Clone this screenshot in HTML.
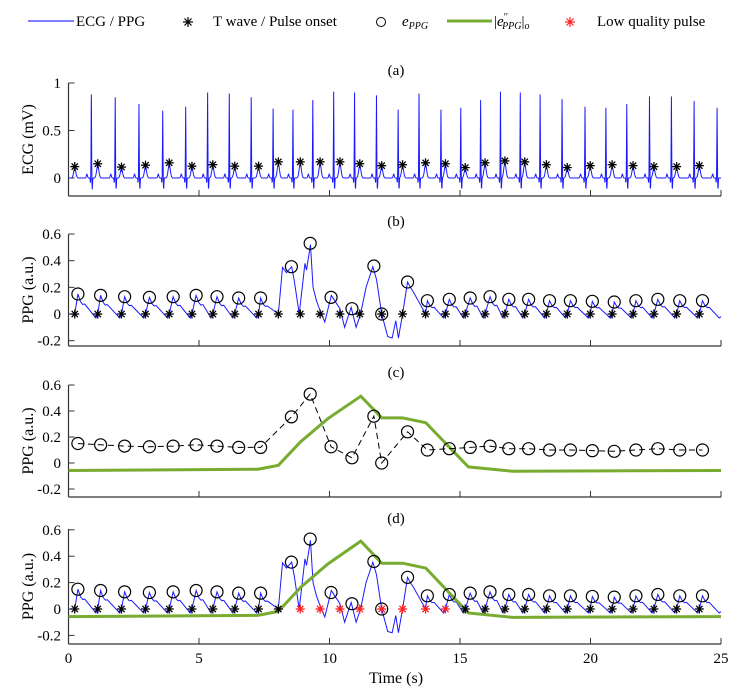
<!DOCTYPE html>
<html><head><meta charset="utf-8"><style>
body{margin:0;background:#fff}
svg{display:block;font-family:"Liberation Serif",serif}
</style></head><body>
<svg id="chart" width="744" height="695" viewBox="0 0 744 695">
<g id="legend" font-size="15">
  <g><line x1="28" y1="21" x2="74" y2="21" stroke="#3030ff" stroke-width="1.3"/><text x="76" y="26">ECG / PPG</text></g>
  <g><g stroke="#000" stroke-width="1.2"><line x1="188" y1="17" x2="188" y2="27"/><line x1="183" y1="22" x2="193" y2="22"/><line x1="184.5" y1="18.5" x2="191.5" y2="25.5"/><line x1="184.5" y1="25.5" x2="191.5" y2="18.5"/></g><text x="213" y="26">T wave / Pulse onset</text></g>
  <g><circle cx="381" cy="22" r="4.5" fill="none" stroke="#000"/><text x="402" y="26" font-style="italic">e<tspan font-size="10" dy="3">PPG</tspan></text></g>
  <g><line x1="447" y1="21" x2="492" y2="21" stroke="#77ac30" stroke-width="3"/><text x="494" y="26">|<tspan font-style="italic">e</tspan><tspan font-size="10" dy="-6">′′</tspan><tspan font-size="10" dy="9" font-style="italic" dx="-6">PPG</tspan><tspan dy="-3">|</tspan><tspan font-size="10" dy="3" font-style="italic">o</tspan></text></g>
  <g><g stroke="#ff2020" stroke-width="1.2"><line x1="570" y1="17" x2="570" y2="27"/><line x1="565" y1="22" x2="575" y2="22"/><line x1="566.5" y1="18.5" x2="573.5" y2="25.5"/><line x1="566.5" y1="25.5" x2="573.5" y2="18.5"/></g><text x="597" y="26">Low quality pulse</text></g>
</g>
</svg>
<script>
// ---------- data ----------
const onsetTimes = [0.24,1.12,2.03,2.95,3.86,4.73,5.53,6.37,7.28,8.04,8.88,9.64,10.40,11.16,12.0,12.80,13.68,14.44,15.20,15.96,16.72,17.48,18.31,19.11,19.99,20.83,21.63,22.43,23.30,24.17];
const ecgTwaveValues = [0.12,0.15,0.115,0.135,0.16,0.125,0.14,0.125,0.125,0.17,0.17,0.17,0.17,0.15,0.13,0.14,0.16,0.15,0.11,0.16,0.18,0.17,0.14,0.11,0.13,0.14,0.13,0.12,0.12,0.13];
const rPeakTimes = [0.875,1.79,2.70,3.61,4.49,5.33,6.16,7.00,7.84,8.60,9.36,10.16,10.96,11.80,12.63,13.43,14.27,15.03,15.79,16.55,17.31,18.07,18.91,19.79,20.59,21.39,22.26,23.10,23.97,24.85];
const rPeakValues = [0.88,0.85,0.78,0.71,0.75,0.90,0.89,0.85,0.73,0.72,0.82,0.91,0.90,0.87,0.72,0.89,0.72,0.74,0.82,0.91,0.90,0.88,0.83,0.75,0.74,0.78,0.86,0.86,0.81,0.74];
const peakTimes = [0.36,1.23,2.15,3.10,4.01,4.89,5.69,6.52,7.36,8.54,9.26,10.06,10.86,11.70,12.0,12.99,13.75,14.59,15.39,16.15,16.87,17.63,18.43,19.23,20.07,20.91,21.74,22.58,23.42,24.29];
const peakValues = [0.15,0.14,0.13,0.125,0.13,0.14,0.13,0.12,0.12,0.355,0.53,0.125,0.04,0.36,0,0.24,0.10,0.11,0.12,0.13,0.11,0.11,0.10,0.10,0.095,0.09,0.10,0.11,0.10,0.10];
const lowQualityFlags = [0,0,0,0,0,0,0,0,0,0,1,1,1,1,1,1,1,1,0,0,0,0,0,0,0,0,0,0,0,0];
const noisyTimes = [8.04,8.2,8.35,8.55,8.65,8.84,9.06,9.12,9.27,9.37,9.5,9.63,9.82,10.07,10.2,10.4,10.58,10.83,11.02,11.19,11.4,11.66,11.8,12.0,12.23,12.4,12.54,12.64,12.8,12.99,13.1,13.2,13.68];
const noisyValues = [0,0.35,0.31,0.355,0.25,0,0.38,0.33,0.52,0.2,0.1,0.03,-0.06,0.14,0.1,0.04,-0.1,0.05,-0.1,0,0.2,0.355,0.26,0,-0.17,-0.18,-0.05,-0.18,0,0.24,0.2,0.17,0];
const greenTimes = [0,7.26,8.04,8.9,9.93,11.2,12.0,12.8,13.69,15.32,17.0,25];
const greenValues = [-0.058,-0.048,-0.018,0.165,0.34,0.514,0.347,0.347,0.31,-0.03,-0.063,-0.058];
const xTicks = [0,5,10,15,20,25];
const yTicksA = [0,0.5,1];
const yTicksPPG = [-0.2,0,0.2,0.4,0.6];

// ---------- helpers ----------
const NS = "http://www.w3.org/2000/svg";
const svg = document.getElementById('chart');
const X = t => 68.5 + 26.1 * t;
function mk(tag, attrs, parent) {
  const e = document.createElementNS(NS, tag);
  for (const k in attrs) e.setAttribute(k, attrs[k]);
  (parent || svg).appendChild(e);
  return e;
}
const panels = [
  {key:'a', y0:178, s:95, top:83, bottom:196, title:70, label:'ECG (mV)', ticks:yTicksA},
  {key:'b', y0:314, s:133.3, top:234, bottom:346, title:221, label:'PPG (a.u.)', ticks:yTicksPPG},
  {key:'c', y0:463, s:130, top:385, bottom:497, title:372, label:'PPG (a.u.)', ticks:yTicksPPG},
  {key:'d', y0:609, s:132, top:529, bottom:644, title:518, label:'PPG (a.u.)', ticks:yTicksPPG}
];
function drawAxes(p, showXLabels) {
  const g = mk('g', {});
  
  
  const ttl = mk('text', {x:396, y:p.title+5, 'text-anchor':'middle', 'font-size':15}, g);
  ttl.textContent = '(' + p.key + ')';
  
  
  mk('line', {x1:X(0), y1:p.top, x2:X(0), y2:p.bottom, stroke:'#333', 'stroke-width':1.2}, g);
  mk('line', {x1:X(0), y1:p.bottom, x2:X(25), y2:p.bottom, stroke:'#333', 'stroke-width':1.2}, g);
  p.ticks.forEach(v => {
    const y = p.y0 - p.s * v;
    mk('line', {x1:X(0), y1:y, x2:X(0)+6, y2:y, stroke:'#333'}, g);
    const t = mk('text', {x:61, y:y+5, 'text-anchor':'end', 'font-size':15}, g);
    t.textContent = String(v);
    
    
  });
  xTicks.forEach(v => {
    mk('line', {x1:X(v), y1:p.bottom, x2:X(v), y2:p.bottom-6, stroke:'#333'}, g);
    if (showXLabels) {
      const t = mk('text', {x:X(v), y:p.bottom+19, 'text-anchor':'middle', 'font-size':15}, g);
      t.textContent = String(v);
      
      
    }
  });
  const cy = (p.top + p.bottom) / 2;
  const yl = mk('text', {x:0, y:0, transform:'translate(33,'+cy+') rotate(-90)', 'text-anchor':'middle', 'font-size':16}, g);
  yl.textContent = p.label;
  
  
}
function star(x, y, color) {
  const g = mk('g', {stroke:color, 'stroke-width':1.3});
  
  
  const r = 4.5;
  mk('line', {x1:x, y1:y-r, x2:x, y2:y+r}, g);
  mk('line', {x1:x-r, y1:y, x2:x+r, y2:y}, g);
  mk('line', {x1:x-r*0.7, y1:y-r*0.7, x2:x+r*0.7, y2:y+r*0.7}, g);
  mk('line', {x1:x-r*0.7, y1:y+r*0.7, x2:x+r*0.7, y2:y-r*0.7}, g);
}
function circ(x, y) {
  const c = mk('circle', {cx:x, cy:y, r:6, fill:'none', stroke:'#000', 'stroke-width':1.2});
  
  
}
function gauss(t, c, w) { const z = (t - c) / w; return Math.exp(-(z * z)); }

// ---------- ECG signal ----------
function ecgSignal() {
  const ts = [];
  for (let i = 0; i <= 2500; i++) ts.push(i / 100);
  rPeakTimes.forEach(r => ts.push(r));
  ts.sort((a, b) => a - b);
  return ts.map(t => {
    let v = 0;
    rPeakTimes.forEach((r, i) => {
      v += rPeakValues[i] * gauss(t, r, 0.012);
      v -= 0.05 * gauss(t, r - 0.035, 0.012);
      v -= 0.12 * gauss(t, r + 0.035, 0.014);
      v += 0.04 * gauss(t, r - 0.17, 0.03);
    });
    onsetTimes.forEach((o, i) => { v += (ecgTwaveValues[i] - 0.02) * gauss(t, o, 0.06); });
    return [t, v];
  });
}
// ---------- PPG signal ----------
function ppgSignal() {
  const pts = [[0, 0.0]];
  const n = onsetTimes.length;
  for (let i = 0; i < n; i++) {
    if (i >= 9 && i <= 15) continue;
    if (i === 16) { noisyTimes.forEach((t, k) => pts.push([t, noisyValues[k]])); }
    const o = onsetTimes[i], pt = peakTimes[i], p = peakValues[i];
    if (i !== 16) pts.push([o, 0]);
    pts.push([pt, p]);
    pts.push([pt + 0.1, 0.62 * p]);
    pts.push([pt + 0.18, 0.48 * p]);
    pts.push([pt + 0.26, 0.5 * p]);
    const next = i + 1 < n ? onsetTimes[i + 1] : 25;
    if (i === 8) continue;
    pts.push([next - 0.07, -0.03]);
  }
  pts.push([25, -0.02]);
  return pts;
}
function poly(pts, p, attrs, name) {
  const d = pts.map((q, i) => (i ? 'L' : 'M') + X(q[0]).toFixed(2) + ' ' + (p.y0 - p.s * q[1]).toFixed(2)).join('');
  const e = mk('path', Object.assign({d:d, fill:'none'}, attrs));
  
  
  return e;
}

// ---------- draw ----------
panels.forEach((p, i) => drawAxes(p, i === 3));
const xt = mk('text', {x:396, y:683, 'text-anchor':'middle', 'font-size':16});
xt.textContent = 'Time (s)';



const pa = panels[0], pb = panels[1], pc = panels[2], pd = panels[3];
poly(ecgSignal(), pa, {stroke:'#1a1aff', 'stroke-width':1}, 'ecg-line');
onsetTimes.forEach((t, i) => star(X(t), pa.y0 - pa.s * ecgTwaveValues[i], '#000'));
const ppg = ppgSignal();
poly(ppg, pb, {stroke:'#1a1aff', 'stroke-width':1}, 'ppg-line');
onsetTimes.forEach(t => star(X(t), pb.y0, '#000'));
peakTimes.forEach((t, i) => circ(X(t), pb.y0 - pb.s * peakValues[i]));
poly(greenTimes.map((t, i) => [t, greenValues[i]]), pc, {stroke:'#77ac30', 'stroke-width':3}, 'eppg-second-derivative-line');
poly(peakTimes.map((t, i) => [t, peakValues[i]]), pc, {stroke:'#000', 'stroke-width':1, 'stroke-dasharray':'6 4'}, 'eppg-dashed-line');
peakTimes.forEach((t, i) => circ(X(t), pc.y0 - pc.s * peakValues[i]));
poly(ppg, pd, {stroke:'#1a1aff', 'stroke-width':1}, 'ppg-line-d');
poly(greenTimes.map((t, i) => [t, greenValues[i]]), pd, {stroke:'#77ac30', 'stroke-width':3}, 'eppg-second-derivative-line-d');
peakTimes.forEach((t, i) => circ(X(t), pd.y0 - pd.s * peakValues[i]));
onsetTimes.forEach((t, i) => star(X(t), pd.y0, lowQualityFlags[i] ? '#ff2020' : '#000'));
</script>
</body></html>
